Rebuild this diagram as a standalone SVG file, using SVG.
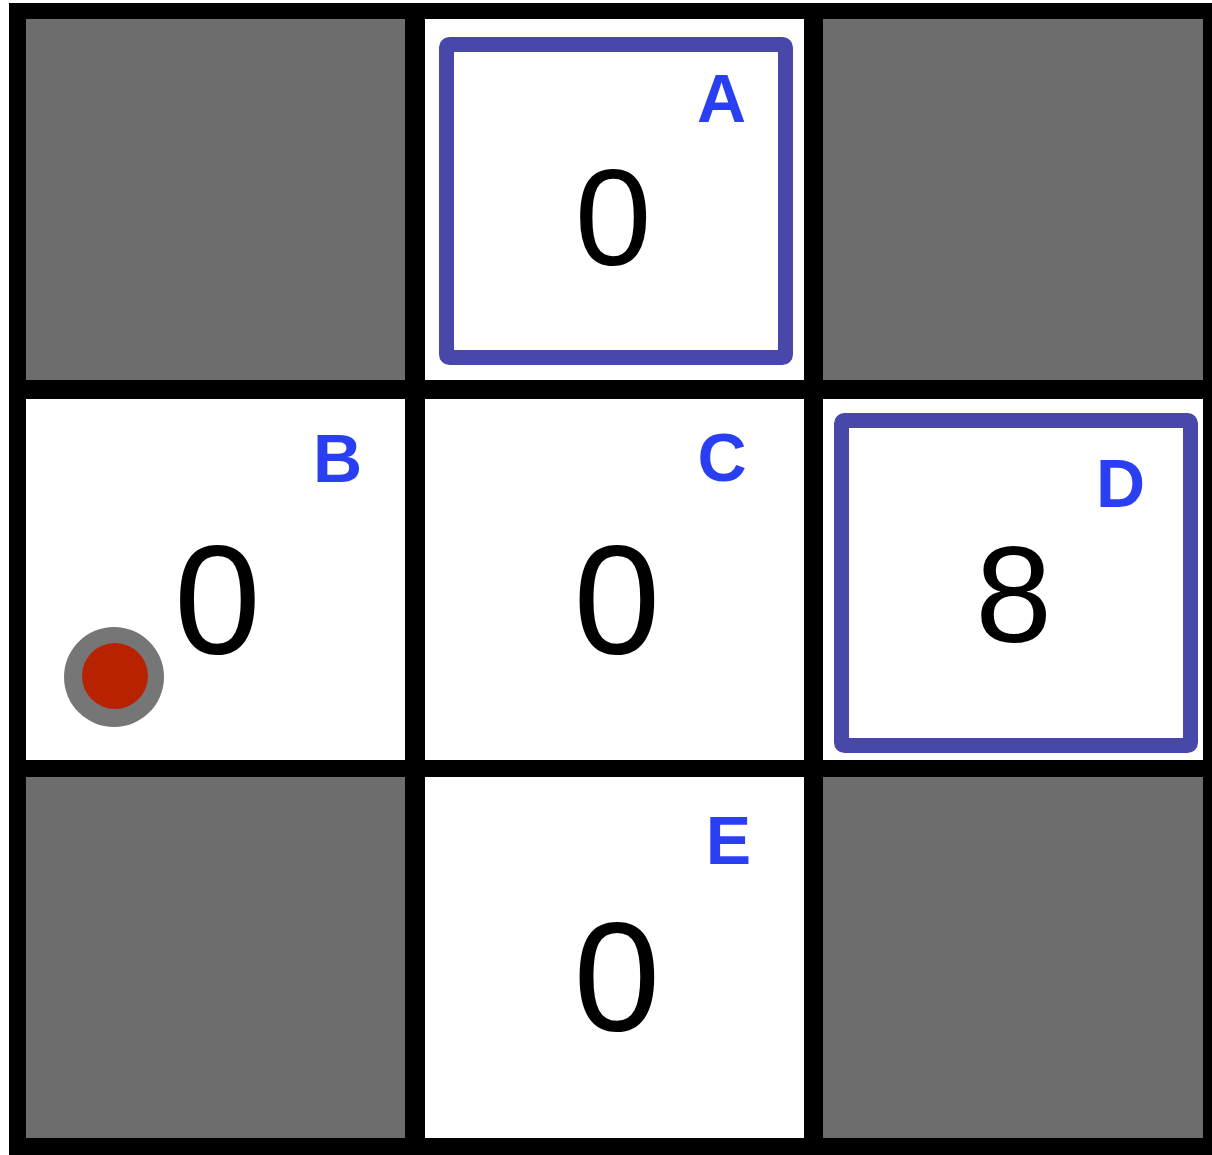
<svg xmlns="http://www.w3.org/2000/svg" width="1212" height="1155" viewBox="0 0 1212 1155">
  <style>
    .wall { fill: #6d6d6d; }
    .open { fill: #ffffff; }
    .frame { fill: none; stroke: #4848aa; stroke-width: 15; stroke-linejoin: round; }
    .val { font-family: "Liberation Sans", Arial, sans-serif; fill: #000; text-anchor: middle; }
    .big { font-size: 156px; }
    .small { font-size: 138px; }
    .lbl { font-family: "Liberation Sans", Arial, sans-serif; font-weight: bold; font-size: 68px; fill: #2b3ff2; text-anchor: middle; }
  </style>
  <rect x="0" y="0" width="1212" height="1155" fill="#ffffff"/>
  <rect x="9" y="3" width="1203" height="1152" fill="#000000"/>

  <g id="wall-r1c1"><rect class="wall" x="26" y="19" width="379" height="361"/></g>
  <g id="wall-r1c3"><rect class="wall" x="823" y="19" width="380" height="361"/></g>
  <g id="wall-r3c1"><rect class="wall" x="26" y="777" width="379" height="361"/></g>
  <g id="wall-r3c3"><rect class="wall" x="823" y="777" width="380" height="361"/></g>

  <g id="node-A">
    <rect class="open" x="425" y="19" width="379" height="361"/>
    <rect class="frame" x="446.5" y="44.5" width="339" height="313" rx="3"/>
    <text class="lbl" x="721.5" y="122">A</text>
    <text class="val small" x="613" y="265">0</text>
  </g>

  <g id="node-B">
    <rect class="open" x="26" y="399" width="379" height="361"/>
    <text class="lbl" x="337.5" y="482">B</text>
    <text class="val big" x="217.5" y="653">0</text>
    <g id="agent">
      <circle cx="114" cy="677" r="50" fill="#767676"/>
      <circle cx="115" cy="676" r="33" fill="#b82200"/>
    </g>
  </g>

  <g id="node-C">
    <rect class="open" x="425" y="399" width="379" height="361"/>
    <text class="lbl" x="722" y="481">C</text>
    <text class="val big" x="617" y="653">0</text>
  </g>

  <g id="node-D">
    <rect class="open" x="823" y="399" width="380" height="361"/>
    <rect class="frame" x="841.5" y="420.5" width="349" height="325" rx="3"/>
    <text class="lbl" x="1120.5" y="507">D</text>
    <text class="val small" x="1013.5" y="642">8</text>
  </g>

  <g id="node-E">
    <rect class="open" x="425" y="777" width="379" height="361"/>
    <text class="lbl" x="728.5" y="864">E</text>
    <text class="val big" x="617" y="1030">0</text>
  </g>
</svg>
